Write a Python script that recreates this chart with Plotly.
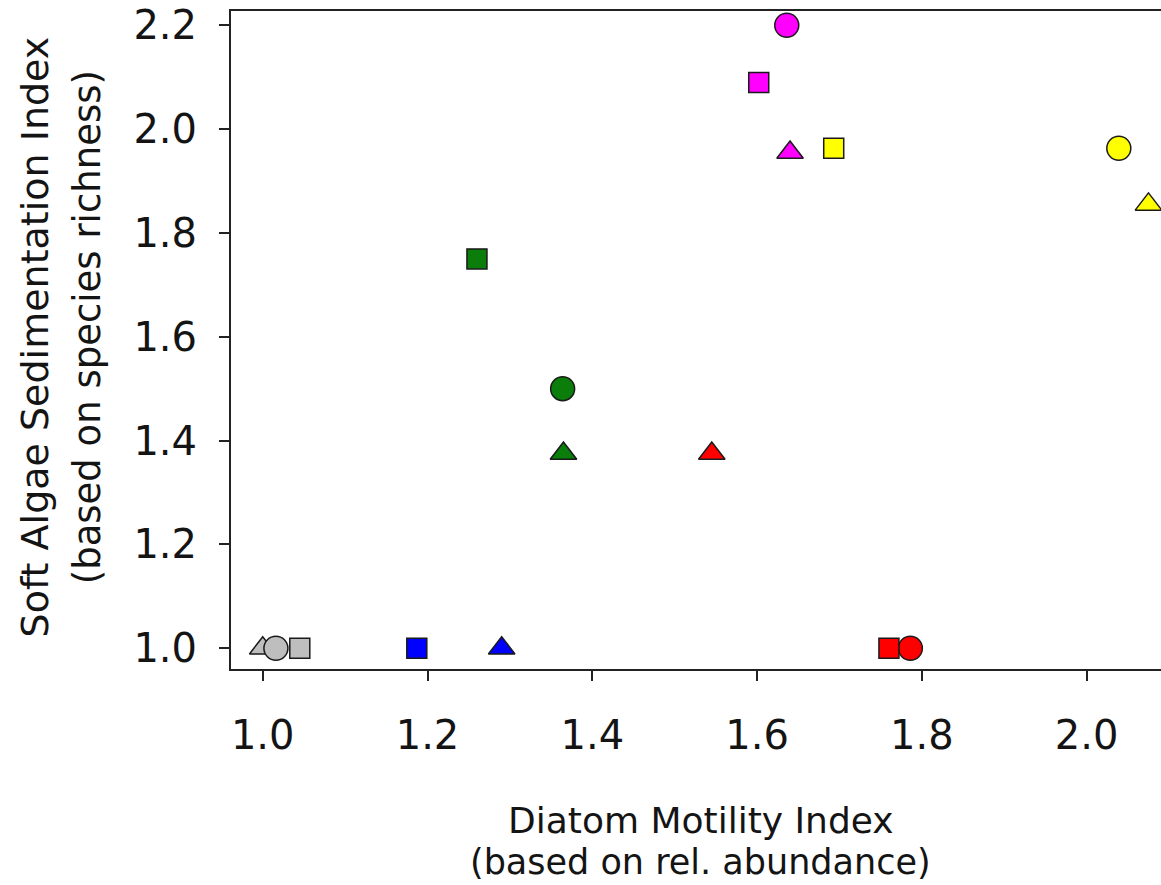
import plotly.graph_objects as go

# Site groups: each colour is a group, each symbol a sampling variant
groups = ["gray", "blue", "red", "magenta", "yellow", "green"]
fill_colors = {
    "gray": "#BEBEBE",
    "blue": "#0000FF",
    "red": "#FF0000",
    "magenta": "#FF00FF",
    "yellow": "#FFFF00",
    "green": "#0A7D0A",
}

# Diatom Motility Index (x) and Soft Algae Sedimentation Index (y) per shape
circle_x = {"gray": 1.016, "red": 1.786, "magenta": 1.636, "yellow": 2.039, "green": 1.364}
circle_y = {"gray": 1.0, "red": 1.0, "magenta": 2.2, "yellow": 1.963, "green": 1.5}

square_x = {"gray": 1.045, "blue": 1.187, "red": 1.760, "magenta": 1.602, "yellow": 1.693, "green": 1.260}
square_y = {"gray": 1.0, "blue": 1.0, "red": 1.0, "magenta": 2.09, "yellow": 1.963, "green": 1.75}

triangle_x = {"gray": 1.0, "blue": 1.290, "red": 1.545, "magenta": 1.640, "yellow": 2.075, "green": 1.365}
triangle_y = {"gray": 1.0, "blue": 1.0, "red": 1.375, "magenta": 1.955, "yellow": 1.855, "green": 1.375}

x_ticks = [1.0, 1.2, 1.4, 1.6, 1.8, 2.0]
y_ticks = [1.0, 1.2, 1.4, 1.6, 1.8, 2.0, 2.2]

FONT = "Century Gothic, DejaVu Sans, sans-serif"
TEXT = "#141414"

fig = go.Figure()

shape_sets = [
    ("triangle-up", triangle_x, triangle_y, 23),
    ("circle", circle_x, circle_y, 24),
    ("square", square_x, square_y, 20),
]
for symbol, xs, ys, size in shape_sets:
    for g in groups:
        if g not in xs:
            continue
        fig.add_trace(go.Scatter(
            x=[xs[g]], y=[ys[g]],
            mode="markers",
            marker=dict(symbol=symbol, size=size, color=fill_colors[g],
                        line=dict(color="#1a1a1a", width=1.5)),
            showlegend=False,
            hoverinfo="x+y",
        ))

fig.update_layout(
    width=1161, height=885,
    margin=dict(l=231, r=0, t=11, b=216),
    plot_bgcolor="white", paper_bgcolor="white",
    font=dict(family=FONT, color=TEXT),
    xaxis=dict(
        range=[0.9615, 2.0902],
        tickvals=x_ticks, ticktext=[f"{v:.1f}" for v in x_ticks],
        showgrid=False, zeroline=False,
        showline=True, linecolor="#222222", linewidth=2, mirror=True,
        ticks="outside", ticklen=10, tickwidth=1.5, tickcolor="#222222",
        tickfont=dict(size=40, family=FONT, color=TEXT),
        ticklabelstandoff=20,
    ),
    yaxis=dict(
        range=[0.960, 2.2275],
        tickvals=y_ticks, ticktext=[f"{v:.1f}" for v in y_ticks],
        showgrid=False, zeroline=False,
        showline=True, linecolor="#222222", linewidth=2, mirror=False,
        ticks="outside", ticklen=10, tickwidth=1.5, tickcolor="#222222",
        tickfont=dict(size=40, family=FONT, color=TEXT),
        ticklabelstandoff=14,
    ),
    annotations=[
        dict(text="Diatom Motility Index", x=0.505, y=-0.230, xref="paper", yref="paper",
             showarrow=False, font=dict(size=36, family=FONT, color=TEXT),
             xanchor="center", yanchor="middle"),
        dict(text="(based on rel. abundance)", x=0.505, y=-0.293, xref="paper", yref="paper",
             showarrow=False, font=dict(size=35, family=FONT, color=TEXT),
             xanchor="center", yanchor="middle"),
        dict(text="Soft Algae Sedimentation Index", x=-0.211, y=0.505, xref="paper", yref="paper",
             showarrow=False, textangle=-90, font=dict(size=38, family=FONT, color=TEXT),
             xanchor="center", yanchor="middle"),
        dict(text="(based on species richness)", x=-0.154, y=0.519, xref="paper", yref="paper",
             showarrow=False, textangle=-90, font=dict(size=37, family=FONT, color=TEXT),
             xanchor="center", yanchor="middle"),
    ],
)

fig.write_html("out.html")
